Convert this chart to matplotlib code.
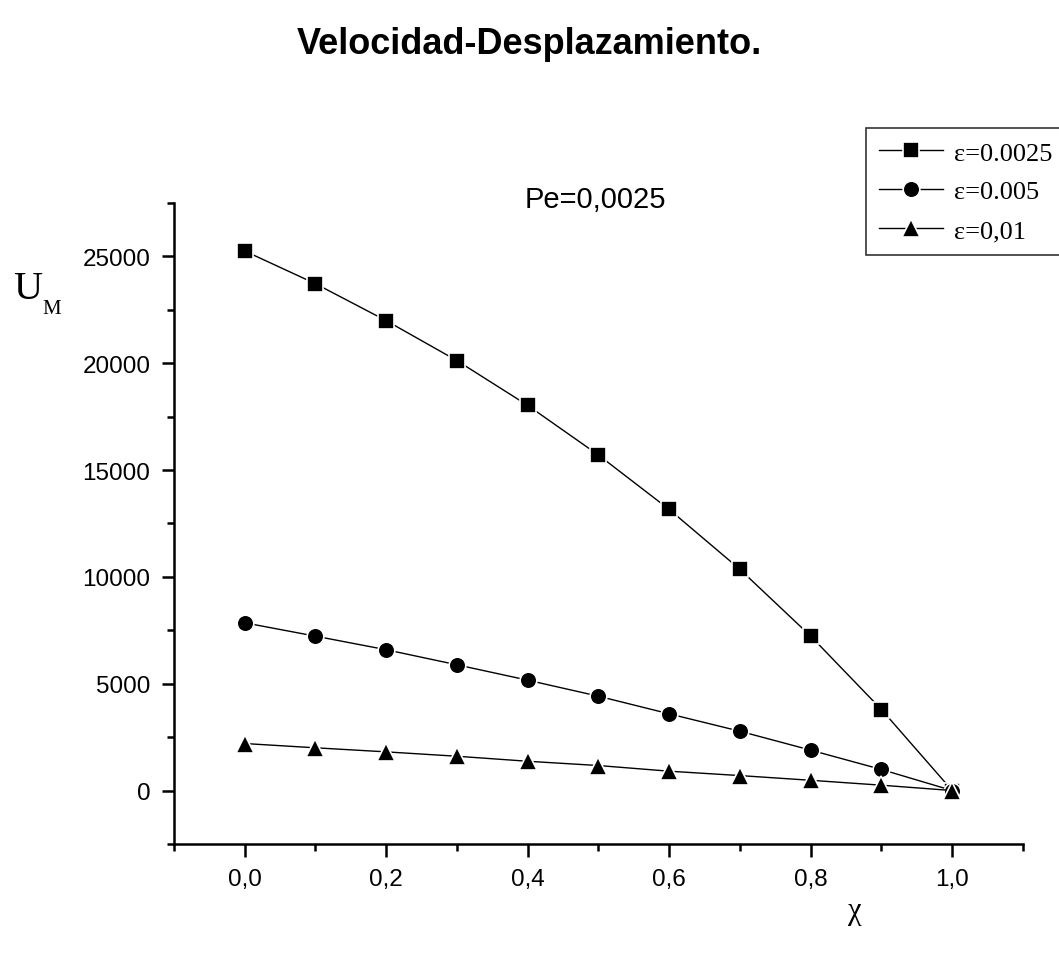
import numpy as np
import matplotlib
matplotlib.use('Agg')
import matplotlib.pyplot as plt
from matplotlib.ticker import MultipleLocator, FuncFormatter

# Data: velocity vs displacement for three epsilon values
chi = [0.0, 0.1, 0.2, 0.3, 0.4, 0.5, 0.6, 0.7, 0.8, 0.9, 1.0]
u_eps_0025 = [25250, 23720, 21990, 20120, 18025, 15700, 13155, 10350, 7225, 3790, 0]
u_eps_005 = [7850, 7225, 6590, 5885, 5165, 4415, 3590, 2775, 1890, 985, 0]
u_eps_01 = [2200, 2000, 1810, 1605, 1370, 1170, 905, 700, 480, 250, 0]
labels = ['\u03b5=0.0025', '\u03b5=0.005', '\u03b5=0,01']

plt.rcParams['font.family'] = ['Liberation Sans', 'DejaVu Sans']

fig = plt.figure(figsize=(10.59, 9.54), dpi=100)
ax = fig.add_axes([0.1643, 0.1143, 0.8017, 0.6719])

# white marker edges leave a small gap between line and symbol
style = dict(color='k', lw=1, mec='white', mew=1.2, mfc='k')
ax.plot(chi, u_eps_0025, marker='s', ms=11, label=labels[0], **style)
ax.plot(chi, u_eps_005, marker='o', ms=12, label=labels[1], **style)
ax.plot(chi, u_eps_01, marker='^', ms=13, label=labels[2], **style)

ax.set_xlim(-0.1, 1.1)
ax.set_ylim(-2500, 27500)

ax.spines['top'].set_visible(False)
ax.spines['right'].set_visible(False)
ax.spines['left'].set_linewidth(1.8)
ax.spines['bottom'].set_linewidth(1.8)

ax.xaxis.set_major_locator(MultipleLocator(0.2))
ax.xaxis.set_minor_locator(MultipleLocator(0.1))
ax.yaxis.set_major_locator(MultipleLocator(5000))
ax.yaxis.set_minor_locator(MultipleLocator(2500))
ax.xaxis.set_major_formatter(FuncFormatter(lambda v, p: f'{v:.1f}'.replace('.', ',')))
ax.tick_params(which='major', direction='out', length=9, width=1.8, labelsize=17.5, pad=8)
ax.tick_params(which='minor', direction='out', length=5, width=1.8)

# Titles and axis labels
fig.text(0.5, 1 - 45 / 954, 'Velocidad-Desplazamiento.', ha='center', va='center',
         fontsize=26, fontweight='bold')
fig.text(595 / 1059, 1 - 200 / 954, 'Pe=0,0025', ha='center', va='center', fontsize=21)
fig.text(13 / 1059, 1 - 299 / 954, 'U', ha='left', va='baseline',
         fontsize=29, family='Liberation Serif')
fig.text(42 / 1059, 1 - 314 / 954, 'M', ha='left', va='baseline',
         fontsize=15, family='Liberation Serif')
fig.text(855 / 1059, 1 - 912 / 954, '\u03c7', ha='center', va='center',
         fontsize=22, family='Liberation Serif')

# legend box runs off the right edge of the figure
leg = fig.legend(loc='upper right', bbox_to_anchor=(1066 / 1059, 1 - 129 / 954),
                 prop={'family': 'Liberation Serif', 'size': 19},
                 frameon=True, fancybox=False, shadow=False,
                 handlelength=2.4, handletextpad=0.45, borderpad=0.5,
                 labelspacing=0.58, borderaxespad=0, markerscale=1.0)
leg.get_frame().set_edgecolor('black')
leg.get_frame().set_linewidth(1.2)

fig.savefig('out.png', dpi=100)
